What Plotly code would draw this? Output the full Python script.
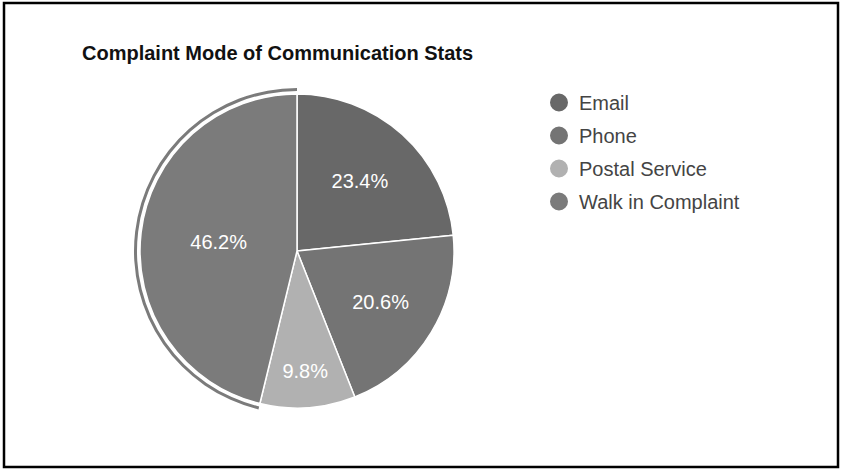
import plotly.graph_objects as go

labels = ["Email", "Phone", "Postal Service", "Walk in Complaint"]
values = [23.4, 20.6, 9.8, 46.2]
colors = ["#686868", "#747474", "#b1b1b1", "#7b7b7b"]
highlight = "Walk in Complaint"
title_text = "Complaint Mode of Communication Stats"

W, H = 842, 472
cx, cy, r = 297, 251, 157
ring_r = 163

def dom(rad):
    return dict(x=[(cx - rad) / W, (cx + rad) / W],
                y=[(H - cy - rad) / H, (H - cy + rad) / H])

fig = go.Figure()

fig.add_trace(go.Pie(
    labels=labels, values=values, sort=False, direction="clockwise", rotation=0,
    marker=dict(colors=colors, line=dict(color="white", width=1.5)),
    textinfo="percent", texttemplate="%{percent:.1%}", textposition="inside",
    insidetextorientation="horizontal",
    textfont=dict(family="Arial, Liberation Sans", size=20, color="white"),
    domain=dom(r), showlegend=False, hoverinfo="label+percent",
))

ring_colors = [c if l == highlight else "rgba(0,0,0,0)" for l, c in zip(labels, colors)]
fig.add_trace(go.Pie(
    labels=labels, values=values, sort=False, direction="clockwise", rotation=0,
    hole=(ring_r - 3) / ring_r,
    marker=dict(colors=ring_colors, line=dict(width=0)),
    textinfo="none", hoverinfo="skip", showlegend=False,
    domain=dom(ring_r),
))

for i, (l, c) in enumerate(zip(labels, colors)):
    fig.add_trace(go.Scatter(
        x=[None], y=[None], mode="markers", name=l, legendgroup=l,
        marker=dict(color=c, size=16, symbol="circle", line=dict(color=c, width=2)),
    ))

fig.update_layout(
    width=W, height=H,
    margin=dict(l=0, r=0, t=0, b=0),
    paper_bgcolor="white", plot_bgcolor="white",
    xaxis=dict(visible=False), yaxis=dict(visible=False),
    title=dict(text="<b>" + title_text + "</b>", x=82 / W, xanchor="left",
               y=1 - 53 / H, yanchor="middle",
               font=dict(family="Arial, Liberation Sans", size=20, color="#111111")),
    legend=dict(x=539 / W, xanchor="left", y=1 - 83 / H, yanchor="top",
                font=dict(family="Arial, Liberation Sans", size=20, color="#444444"),
                tracegroupgap=4, itemsizing="trace", bgcolor="rgba(0,0,0,0)"),
    shapes=[dict(type="rect", xref="paper", yref="paper",
                 x0=4 / W, x1=1 - 4 / W, y0=5 / H, y1=1 - 3 / H,
                 line=dict(color="black", width=2.5))],
)

fig.write_html("out.html")
